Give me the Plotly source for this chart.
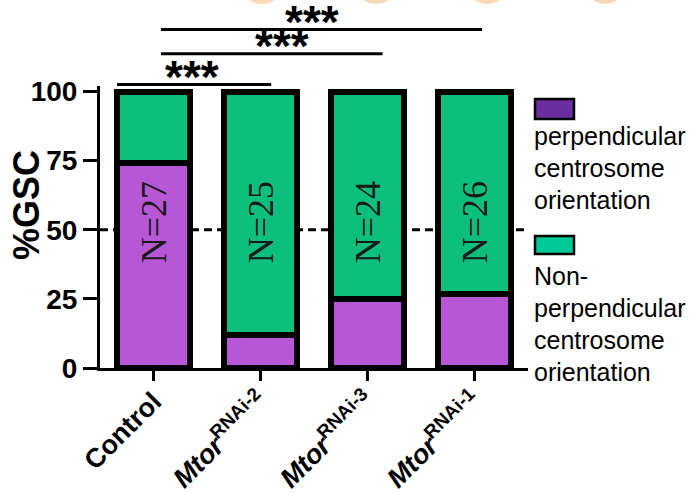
import plotly.graph_objects as go

# Groups and counts of germline stem cells scored per genotype
categories = ["Control", "Mtor RNAi-2", "Mtor RNAi-3", "Mtor RNAi-1"]
tick_labels = [
    "Control",
    "<i>Mtor</i><sup>RNAi-2</sup>",
    "<i>Mtor</i><sup>RNAi-3</sup>",
    "<i>Mtor</i><sup>RNAi-1</sup>",
]
n_total = [27, 25, 24, 26]
n_perpendicular = [20, 3, 6, 7]

perp_pct = [100 * p / n for p, n in zip(n_perpendicular, n_total)]
nonperp_pct = [100 - v for v in perp_pct]

# Pairwise comparisons: (line start, line end, star centre) in category units
sig_brackets = [
    (-0.34, 1.10, 0.36, "***"),
    (0.07, 2.14, 1.20, "***"),
    (0.07, 3.07, 1.48, "***"),
]
sig_levels = [102.5, 113.7, 122.4]

legend_entries = [
    ("perpendicular centrosome orientation",
     ["perpendicular", "centrosome", "orientation"]),
    ("Non-perpendicular centrosome orientation",
     ["Non-", "perpendicular", "centrosome", "orientation"]),
]

PURPLE = "#B857D6"
GREEN = "#0CBF7C"
LEG_COLORS = ["#6A2E9E", "#00C996"]
FONT = "Liberation Sans"

W, H = 699, 494
ML, MR, MT, MB = 100, 171, 86, 126
YMAX = 102
x_idx = list(range(len(categories)))


def paper_x(px):
    return (px - ML) / (W - ML - MR)


def paper_y(py):
    return (H - MB - py) / (H - MT - MB)


def cat_to_paper(c):
    return (c + 0.5) / len(categories)


fig = go.Figure()
fig.add_trace(go.Bar(
    x=x_idx, y=perp_pct, width=0.69, name=legend_entries[0][0],
    marker=dict(color=PURPLE, line=dict(color="black", width=6)),
    showlegend=False, hoverinfo="skip",
))
fig.add_trace(go.Bar(
    x=x_idx, y=nonperp_pct, width=0.69, name=legend_entries[1][0],
    marker=dict(color=GREEN, line=dict(color="black", width=6)),
    showlegend=False, hoverinfo="skip",
))

shapes = []
annotations = []

# 50 % reference line behind the bars
shapes.append(dict(type="line", xref="paper", yref="y", x0=0, x1=1, y0=50, y1=50,
                   line=dict(color="black", width=3, dash="8px,5px"), layer="below"))

# N labels inside the bars
for i, n in enumerate(n_total):
    annotations.append(dict(x=i, y=52.5, xref="x", yref="y", text=f"N={n}",
                            textangle=-90, showarrow=False,
                            font=dict(family="Liberation Serif", size=36, color="#1a1a1a")))

# significance brackets
for (c0, c1, cs, label), lvl in zip(sig_brackets, sig_levels):
    yp = lvl / YMAX
    shapes.append(dict(type="line", xref="paper", yref="paper",
                       x0=cat_to_paper(c0), x1=cat_to_paper(c1), y0=yp, y1=yp,
                       line=dict(color="black", width=3)))
    annotations.append(dict(x=cat_to_paper(cs), y=yp, xref="paper", yref="paper",
                            text="<b>" + label + "</b>", showarrow=False,
                            xanchor="center", yanchor="bottom", yshift=-20,
                            font=dict(family=FONT, size=46, color="black")))

# y-axis title
annotations.append(dict(x=paper_x(26), y=paper_y(205), xref="paper", yref="paper",
                        text="<b>%GSC</b>", textangle=-90, showarrow=False,
                        xanchor="center", yanchor="middle",
                        font=dict(family=FONT, size=36, color="black")))

# legend: swatch above wrapped label
legend_layout = [
    (99, 119, [136, 168, 200]),
    (236, 254, [276, 308, 340, 372]),
]
for (name, lines), color, (by0, by1, line_y) in zip(legend_entries, LEG_COLORS, legend_layout):
    shapes.append(dict(type="rect", xref="paper", yref="paper",
                       x0=paper_x(535), x1=paper_x(574), y0=paper_y(by1), y1=paper_y(by0),
                       fillcolor=color, line=dict(color="black", width=2.5)))
    for txt, ly in zip(lines, line_y):
        annotations.append(dict(x=paper_x(532), y=paper_y(ly), xref="paper", yref="paper",
                                text=txt, showarrow=False, align="left",
                                xanchor="left", yanchor="middle",
                                font=dict(family=FONT, size=25, color="black")))

# soft orange discs along the top edge
for cx in [262, 376, 487, 605]:
    shapes.append(dict(type="circle", xref="paper", yref="paper",
                       x0=paper_x(cx - 24), x1=paper_x(cx + 24),
                       y0=paper_y(4), y1=paper_y(-50),
                       fillcolor="#F9CFA8", line=dict(width=0), opacity=0.8))

fig.update_layout(
    width=W, height=H,
    margin=dict(l=ML, r=MR, t=MT, b=MB, pad=0, autoexpand=False),
    barmode="stack", bargap=0,
    plot_bgcolor="white", paper_bgcolor="white",
    shapes=shapes, annotations=annotations,
    font=dict(family=FONT, color="black"),
    xaxis=dict(
        range=[-0.5, 3.5], tickmode="array", tickvals=x_idx, ticktext=tick_labels,
        tickangle=-45, showline=True, linecolor="black", linewidth=3,
        ticks="outside", ticklen=10, tickwidth=3, tickcolor="black",
        ticklabelstandoff=-6,
        showgrid=False, zeroline=False, automargin=False,
        tickfont=dict(family=FONT, size=27, color="black", weight="bold"),
    ),
    yaxis=dict(
        range=[0, YMAX], tickvals=[0, 25, 50, 75, 100],
        showline=True, linecolor="black", linewidth=3,
        ticks="outside", ticklen=14, tickwidth=3, tickcolor="black",
        showgrid=False, zeroline=False, automargin=False,
        tickfont=dict(family=FONT, size=28, color="black", weight="bold"),
    ),
)

fig.write_html("out.html")
